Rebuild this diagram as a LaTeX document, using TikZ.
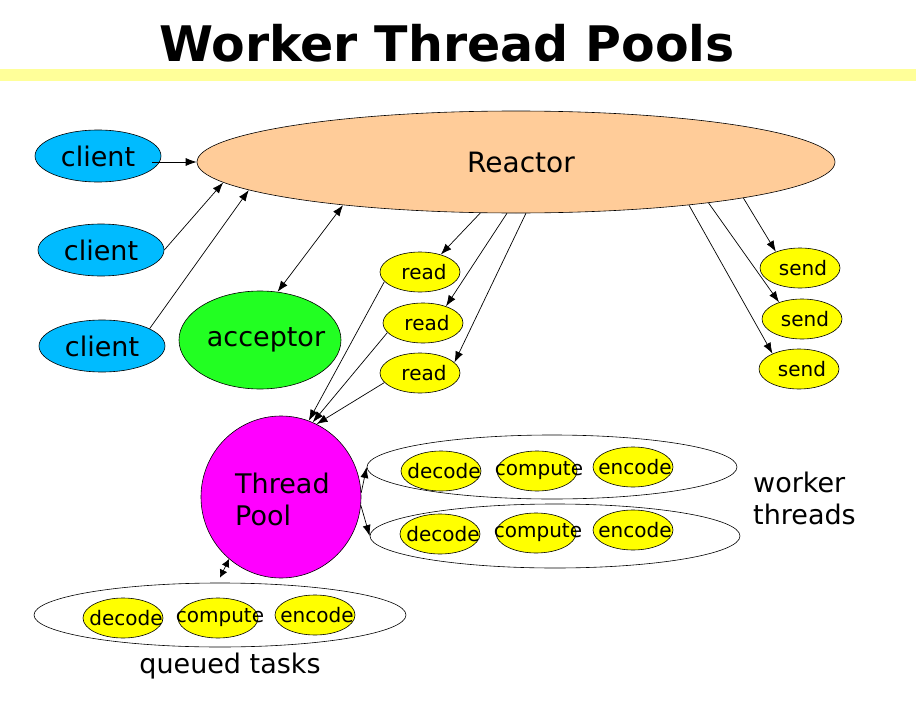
\documentclass[tikz,border=0pt]{standalone}
\usepackage{fontspec}
\setmainfont{DejaVu Sans}
\usetikzlibrary{shapes.geometric,arrows.meta}
\definecolor{clientblue}{RGB}{0,187,255}
\definecolor{reactorpeach}{RGB}{255,204,153}
\definecolor{accgreen}{RGB}{34,255,34}
\definecolor{poolmag}{RGB}{255,0,255}
\definecolor{taskyellow}{RGB}{255,255,0}
\definecolor{bandyellow}{RGB}{255,255,153}
\newcommand\zw[1]{\makebox[0pt]{#1}}
\begin{document}
\begin{tikzpicture}[x=1pt,y=-1pt,
  oval/.style={ellipse, draw, line width=0.6pt, inner sep=0pt},
  big/.style={font=\fontsize{27}{32}\selectfont},
  small/.style={font=\fontsize{20}{24}\selectfont},
  clientbox/.style={oval, fill=clientblue, minimum width=126pt, minimum height=52pt, big},
  taskbox/.style={oval, fill=taskyellow, minimum width=80pt, minimum height=40pt, small},
  groupbox/.style={oval, fill=white, minimum width=370pt, minimum height=64pt},
  arr/.style={line width=0.7pt, -{Latex[length=11pt,width=8pt]}},
  darr/.style={line width=0.7pt, {Latex[length=11pt,width=8pt]}-{Latex[length=11pt,width=8pt]}},
  sdarr/.style={line width=0.7pt, {Latex[length=8pt,width=8pt]}-{Latex[length=8pt,width=8pt]}},
]
\useasboundingbox (0,0) rectangle (916,701);
\fill[white] (0,0) rectangle (916,701);
% title and band
\fill[bandyellow] (0,69) rectangle (916,81);
\node[font=\bfseries\fontsize{49}{55}\selectfont, anchor=base] (title) at (447,62) {Worker Thread Pools};
% reactor
\node[oval, fill=reactorpeach, minimum width=638pt, minimum height=102pt, font=\fontsize{28}{32}\selectfont] (reactor) at (516,162) {\zw{\hspace{10pt}Reactor}};
% clients
\node[clientbox] (client1) at (98,156) {\zw{client}};
\node[clientbox] (client2) at (101,250) {\zw{client}};
\node[clientbox] (client3) at (102,346) {\zw{client}};
% acceptor
\node[oval, fill=accgreen, minimum width=162pt, minimum height=98pt, big] (acceptor) at (260,340) {\zw{\hspace{12pt}acceptor}};
% reads
\node[taskbox] (read1) at (420,272) {\zw{\hspace{8pt}read}};
\node[taskbox] (read2) at (423,323) {\zw{\hspace{8pt}read}};
\node[taskbox] (read3) at (420,373) {\zw{\hspace{8pt}read}};
% sends
\node[taskbox] (send1) at (800,268) {\zw{\hspace{6pt}send}};
\node[taskbox] (send2) at (802,319) {\zw{\hspace{6pt}send}};
\node[taskbox] (send3) at (799,369) {\zw{\hspace{6pt}send}};
% thread pool
\node[oval, fill=poolmag, minimum width=160pt, minimum height=162pt] (tp) at (281,497) {};
\node[big, anchor=base west, inner sep=0pt] (tpl1) at (235,493) {Thread};
\node[big, anchor=base west, inner sep=0pt] (tpl2) at (235,525) {Pool};
% worker groups
\node[groupbox] (group1) at (552,467) {};
\node[groupbox] (group2) at (555,536) {};
\node[taskbox] (w1d) at (441,471) {\zw{\hspace{6pt}decode}};
\node[taskbox] (w1c) at (537,471) {\zw{\hspace{4pt}compute}};
\node[taskbox] (w1e) at (633,467) {\zw{\hspace{4pt}encode}};
\node[taskbox] (w2d) at (440,534) {\zw{\hspace{6pt}decode}};
\node[taskbox] (w2c) at (536,533) {\zw{\hspace{4pt}compute}};
\node[taskbox] (w2e) at (633,530) {\zw{\hspace{4pt}encode}};
\node[big, anchor=base west, inner sep=0pt] (wl1) at (753,492) {worker};
\node[big, anchor=base west, inner sep=0pt] (wl2) at (753,524) {threads};
% queued tasks
\node[groupbox, minimum width=372pt] (queued) at (220,615) {};
\node[taskbox] (qd) at (123,618) {\zw{\hspace{6pt}decode}};
\node[taskbox] (qc) at (218,618) {\zw{\hspace{4pt}compute}};
\node[taskbox] (qe) at (315,615) {\zw{\hspace{4pt}encode}};
\node[big, anchor=base] (ql) at (230,673) {queued tasks};
% connectors
\draw[arr, shorten <=-9pt] (client1.east |- reactor.west) -- (reactor.west);
\draw[arr] (client2.east) -- (reactor.184);
\draw[arr] (client3.20) -- (reactor.186);
\draw[darr] (acceptor.70) -- (reactor.194);
\draw[arr] (reactor.235) -- (read1.40);
\draw[arr] (reactor.260) -- (read2.36);
\draw[arr] (reactor.281) -- (read3.17);
\draw[arr] (read1.195) -- (tp.70);
\draw[arr] (read2.195) -- (tp.67);
\draw[arr] (read3.195) -- (tp.64);
\draw[arr] (reactor.351) -- (send1.146);
\draw[arr] (reactor.348) -- (send2.144);
\draw[arr] (reactor.346) -- (send3.150);
\draw[arr] (tp.3) -- (group1.west);
\draw[arr] (tp.354) -- (group2.west);
\draw[sdarr] (tp.230) -- ([yshift=5pt]queued.north);
\end{tikzpicture}
\end{document}
